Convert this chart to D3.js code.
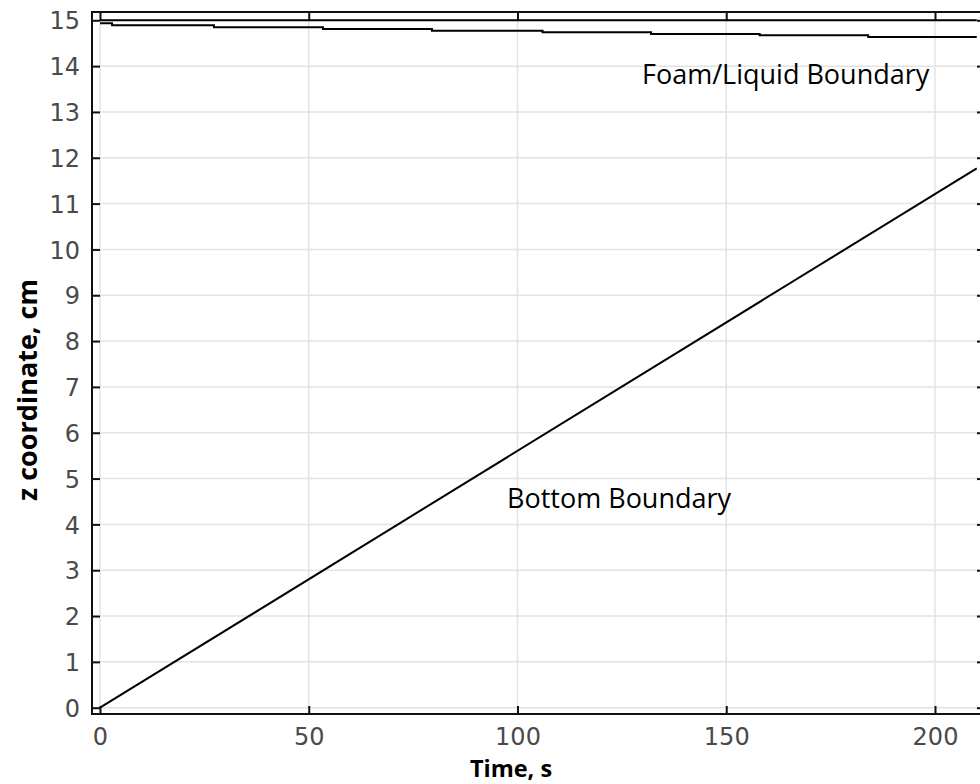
<!DOCTYPE html>
<html>
<head>
<meta charset="utf-8">
<script src="https://cdn.jsdelivr.net/npm/d3@7"></script>
<style>
  html, body { margin: 0; padding: 0; background: #fff; }
  svg { display: block; }
</style>
</head>
<body>
<svg id="chart" width="980" height="784"></svg>
<script>
// Time axis ticks (s) and height axis ticks (cm)
const xTicks = [0, 50, 100, 150, 200];
const yTicks = [0, 1, 2, 3, 4, 5, 6, 7, 8, 9, 10, 11, 12, 13, 14, 15];

// Top of the column: constant height
const topT = [0, 210];
const topZ = [15, 15];

// Foam/liquid boundary: stepwise descent (step start times and levels)
const foamT = [0, 2.9, 27.3, 53.4, 79.5, 106, 132, 158, 184, 210];
const foamZ = [14.934, 14.890, 14.846, 14.810, 14.770, 14.737, 14.700, 14.673, 14.636, 14.636];

// Bottom boundary: rises steadily
const bottomT = [0, 210];
const bottomZ = [0, 11.77];

const svg = d3.select("#chart");

// Frame of the plot area
const frame = { left: 92, right: 985, top: 12, bottom: 714 };

const x = d3.scaleLinear().domain([0, 200]).range([100, 935]);
const y = d3.scaleLinear().domain([0, 15]).range([707.7, 20.3]);

// Grid
const grid = svg.append("g").attr("stroke", "#e3e3e3").attr("stroke-width", 1.5);
grid.selectAll("line.gx").data(xTicks).join("line")
  .attr("x1", d => x(d)).attr("x2", d => x(d))
  .attr("y1", frame.top).attr("y2", frame.bottom);
grid.selectAll("line.gy").data(yTicks).join("line")
  .attr("x1", frame.left).attr("x2", frame.right)
  .attr("y1", d => y(d)).attr("y2", d => y(d));

// Axes with inward ticks on all four sides
const tickLen = 8;
const axisStyle = g => {
  g.select(".domain").remove();
  g.selectAll(".tick line").attr("stroke", "#111").attr("stroke-width", 2);
};

svg.append("g")
  .attr("transform", `translate(0,${frame.bottom})`)
  .call(d3.axisBottom(x).tickValues(xTicks).tickSize(-tickLen).tickPadding(14))
  .call(axisStyle)
  .call(g => g.selectAll(".tick text")
    .attr("font-family", "DejaVu Sans").attr("font-size", 24).attr("fill", "#4a4a4a"));

svg.append("g")
  .attr("transform", `translate(0,${frame.top})`)
  .call(d3.axisTop(x).tickValues(xTicks).tickSize(-tickLen).tickFormat(""))
  .call(axisStyle);

svg.append("g")
  .attr("transform", `translate(${frame.left},0)`)
  .call(d3.axisLeft(y).tickValues(yTicks).tickSize(-tickLen).tickPadding(tickLen + 4))
  .call(axisStyle)
  .call(g => g.selectAll(".tick text")
    .attr("font-family", "DejaVu Sans").attr("font-size", 24).attr("fill", "#4a4a4a")
    .attr("dy", "0.36em"));

svg.append("g")
  .attr("transform", `translate(${frame.right},0)`)
  .call(d3.axisRight(y).tickValues(yTicks).tickSize(-tickLen).tickFormat(""))
  .call(axisStyle);

// Data lines
const line = d3.line().x(d => x(d[0])).y(d => y(d[1]));
const stepLine = d3.line().x(d => x(d[0])).y(d => y(d[1])).curve(d3.curveStepAfter);

const plot = svg.append("g").attr("fill", "none").attr("stroke", "#000").attr("stroke-width", 2);
plot.append("path").attr("d", line(d3.zip(topT, topZ)));
plot.append("path").attr("d", stepLine(d3.zip(foamT, foamZ)));
plot.append("path").attr("d", line(d3.zip(bottomT, bottomZ)));

// Frame
svg.append("rect")
  .attr("x", frame.left).attr("y", frame.top)
  .attr("width", frame.right - frame.left).attr("height", frame.bottom - frame.top)
  .attr("fill", "none").attr("stroke", "#111").attr("stroke-width", 2);

// Curve annotations
const ann = svg.append("g")
  .attr("font-family", "Open Sans").attr("font-size", 27).attr("fill", "#000");
ann.append("text").attr("x", 642).attr("y", 84).text("Foam/Liquid Boundary");
ann.append("text").attr("x", 507).attr("y", 508).text("Bottom Boundary");

// Axis titles
svg.append("text")
  .attr("x", 511).attr("y", 776.5)
  .attr("text-anchor", "middle")
  .attr("font-family", "Open Sans").attr("font-weight", "bold").attr("font-size", 23.5)
  .text("Time, s");

svg.append("text")
  .attr("transform", "translate(37,390) rotate(-90)")
  .attr("text-anchor", "middle")
  .attr("font-family", "Open Sans").attr("font-weight", "bold").attr("font-size", 27)
  .text("z coordinate, cm");
</script>
</body>
</html>
